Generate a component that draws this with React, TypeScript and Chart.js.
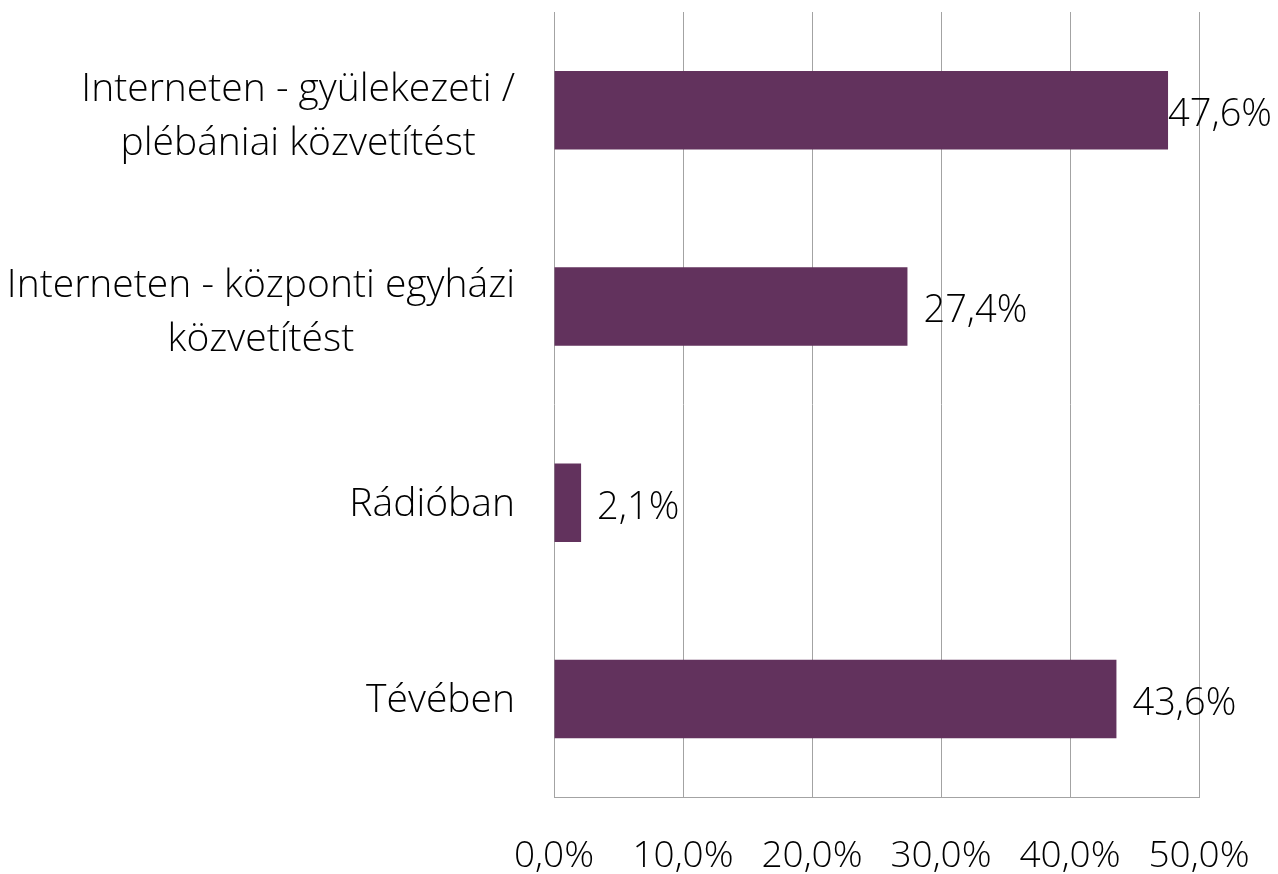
import React, { useEffect, useRef } from "react";
import { Chart, registerables } from "chart.js";

Chart.register(...registerables);

const categories: string[][] = [
  ["Interneten - gyülekezeti /", "plébániai közvetítést"],
  ["Interneten - központi egyházi", "közvetítést"],
  ["Rádióban"],
  ["Tévében"],
];
const values: number[] = [47.6, 27.4, 2.1, 43.6];
const xTicksMin = 0;
const xTicksMax = 50;
const xTickStep = 10;

const FONT_FAMILY = '"Open Sans", "Segoe UI", sans-serif';
const BAR_COLOR = "#62325D";
const GRID_COLOR = "#A3A3A3";

const fmt = (v: number) => v.toFixed(1).replace(".", ",") + "%";

const labelPlugin = {
  id: "customLabels",
  afterDraw(chart: any) {
    const ctx = chart.ctx as CanvasRenderingContext2D;
    const yScale = chart.scales.y;
    ctx.save();
    ctx.font = `300 39px ${FONT_FAMILY}`;
    ctx.fillStyle = "#000";
    ctx.textBaseline = "alphabetic";
    ctx.textAlign = "center";
    const rightEdge = chart.chartArea.left - 39;
    categories.forEach((lines, i) => {
      const cy = yScale.getPixelForValue(i);
      const maxW = Math.max(...lines.map((l) => ctx.measureText(l).width));
      const cx = rightEdge - maxW / 2;
      if (lines.length === 1) {
        ctx.fillText(lines[0], cx, cy + 13);
      } else {
        lines.forEach((l, j) => {
          ctx.fillText(l, cx, cy - 9 + j * 54);
        });
      }
    });
    // data labels
    ctx.font = `300 38px ${FONT_FAMILY}`;
    const meta = chart.getDatasetMeta(0);
    ctx.textAlign = "left";
    meta.data.forEach((bar: any, i: number) => {
      const text = fmt(values[i]);
      const w = ctx.measureText(text).width;
      let x = bar.x + 16;
      if (x + w > chart.width - 6) x = chart.width - 6 - w;
      ctx.fillText(text, x, bar.y + 16);
    });
    ctx.restore();
  },
};

export default function App() {
  const ref = useRef<HTMLCanvasElement | null>(null);
  useEffect(() => {
    if (!ref.current) return;
    const chart = new Chart(ref.current, {
      type: "bar",
      data: {
        labels: categories.map((c) => c.join(" ")),
        datasets: [
          {
            data: values,
            backgroundColor: BAR_COLOR,
            borderWidth: 0,
            categoryPercentage: 1,
            barPercentage: 0.4,
          },
        ],
      },
      options: {
        indexAxis: "y",
        animation: false,
        responsive: true,
        maintainAspectRatio: false,
        layout: { padding: { left: 554, right: 79, top: 12, bottom: 0 } },
        plugins: {
          legend: { display: false },
          tooltip: { enabled: false },
        },
        scales: {
          x: {
            min: xTicksMin,
            max: xTicksMax,
            afterFit: (scale: any) => {
              scale.height = 77;
              scale.paddingLeft = 0;
              scale.paddingRight = 0;
            },
            ticks: {
              stepSize: xTickStep,
              color: "#000",
              padding: 41,
              font: { family: FONT_FAMILY, size: 37, weight: "300", lineHeight: 1 },
              callback: (v: any) => fmt(Number(v)),
              maxRotation: 0,
              autoSkip: false,
            },
            grid: { color: GRID_COLOR, lineWidth: 1, drawTicks: false },
            border: { color: GRID_COLOR, width: 1 },
          },
          y: {
            display: false,
          },
        },
      },
      plugins: [labelPlugin],
    });
    return () => chart.destroy();
  }, []);
  return (
    <div style={{ position: "fixed", left: 0, top: 0, width: 1278, height: 874, background: "#fff" }}>
      <canvas ref={ref} />
    </div>
  );
}
